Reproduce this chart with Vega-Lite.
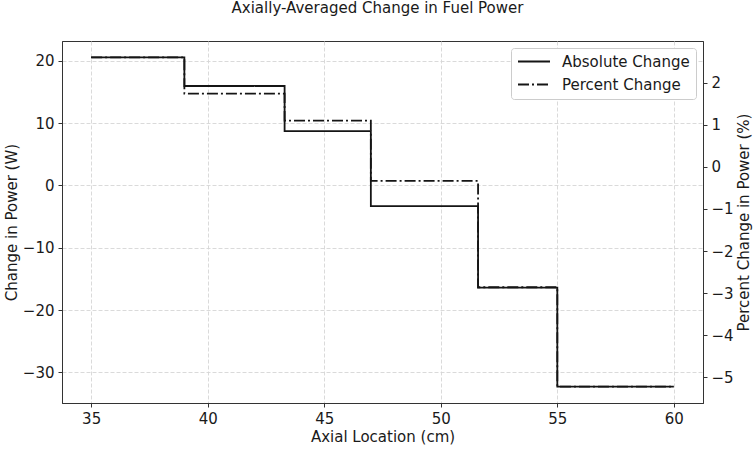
{
  "$schema": "https://vega.github.io/schema/vega-lite/v6.json",
  "width": 641,
  "height": 362,
  "autosize": {"type": "none"},
  "padding": {"left": 62, "top": 41, "right": 51, "bottom": 48},
  "background": "white",
  "title": {"text": "Axially-Averaged Change in Fuel Power", "font": "DejaVu Sans", "fontSize": 15, "fontWeight": "normal", "color": "#1a1a1a", "offset": 25, "anchor": "middle", "dx": -5},
  "config": {
    "font": "DejaVu Sans",
    "view": {"stroke": "#333", "strokeWidth": 1},
    "axis": {
      "domainColor": "#333", "tickColor": "#333", "tickSize": 4, "labelPadding": 4,
      "labelFontSize": 15, "titleFontSize": 15, "titleFontWeight": "normal",
      "labelColor": "#1a1a1a", "titleColor": "#1a1a1a", "labelFont": "DejaVu Sans", "titleFont": "DejaVu Sans",
      "gridColor": "#d6d6d6", "gridDash": [4, 2], "gridWidth": 0.9
    }
  },
  "data": {"values": [
    {"x": 35, "abs": 20.53, "pct": 2.60},
    {"x": 39, "abs": 15.95, "pct": 1.74},
    {"x": 43.3, "abs": 8.72, "pct": 1.1},
    {"x": 47, "abs": -3.32, "pct": -0.335},
    {"x": 51.6, "abs": -16.4, "pct": -2.86},
    {"x": 55, "abs": -32.27, "pct": -5.22},
    {"x": 60, "abs": -32.27, "pct": -5.22}
  ]},
  "layer": [
    {
      "mark": {"type": "line", "interpolate": "step-after", "color": "#151515", "strokeWidth": 1.8},
      "encoding": {
        "x": {"field": "x", "type": "quantitative", "scale": {"domain": [33.75, 61.25], "nice": false, "zero": false},
              "axis": {"title": "Axial Location (cm)", "values": [35, 40, 45, 50, 55, 60], "grid": true, "titlePadding": 3}},
        "y": {"field": "abs", "type": "quantitative", "scale": {"domain": [-34.91, 23.17], "nice": false, "zero": false},
              "axis": {"title": "Change in Power (W)", "orient": "left", "values": [-30, -20, -10, 0, 10, 20], "grid": true, "titlePadding": 3}},
        "strokeDash": {"datum": "Absolute Change", "type": "nominal",
              "scale": {"domain": ["Absolute Change", "Percent Change"], "range": [[1, 0], [11, 3, 2, 3]]},
              "legend": {"title": null, "orient": "none", "legendX": 449, "legendY": 7, "padding": 6,
                         "strokeColor": "#cccccc", "cornerRadius": 3, "fillColor": "white",
                         "labelFontSize": 15, "labelColor": "#1a1a1a", "labelFont": "DejaVu Sans", "labelOffset": 11,
                         "symbolType": "stroke", "symbolSize": 1024, "symbolStrokeWidth": 1.8, "symbolStrokeColor": "#151515",
                         "clipHeight": 15, "rowPadding": 7}}
      }
    },
    {
      "mark": {"type": "line", "interpolate": "step-after", "color": "#151515", "strokeWidth": 1.8},
      "encoding": {
        "x": {"field": "x", "type": "quantitative"},
        "y": {"field": "pct", "type": "quantitative", "scale": {"domain": [-5.61, 2.99], "nice": false, "zero": false},
              "axis": {"title": "Percent Change in Power (%)", "orient": "right", "values": [-5, -4, -3, -2, -1, 0, 1, 2], "grid": false,
                       "titlePadding": 3, "titleFontSize": 15, "titleAngle": 270, "titleBaseline": "top"}},
        "strokeDash": {"datum": "Percent Change", "type": "nominal"}
      }
    }
  ],
  "resolve": {"scale": {"y": "independent"}}
}
